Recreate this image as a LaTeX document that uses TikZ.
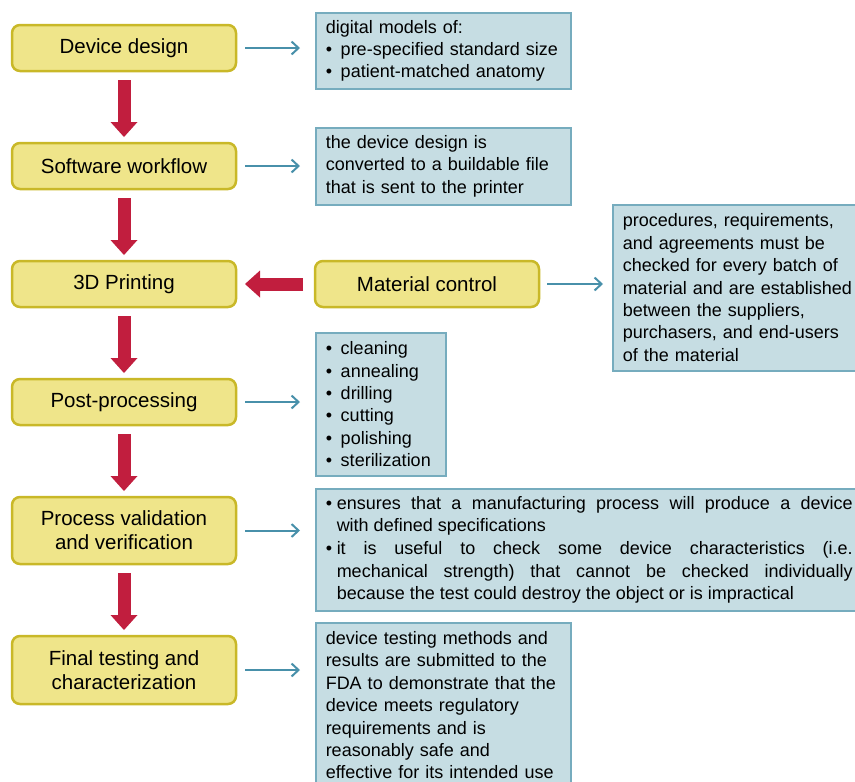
\documentclass[tikz,border=0pt]{standalone}
\usepackage{fontspec}
\setmainfont{Liberation Sans}
\usetikzlibrary{positioning,arrows.meta}
\definecolor{stagefill}{RGB}{239,229,138}
\definecolor{stageline}{RGB}{201,184,40}
\definecolor{notefill}{RGB}{198,221,227}
\definecolor{noteline}{RGB}{118,172,190}
\definecolor{flowred}{RGB}{193,30,62}
\definecolor{linkblue}{RGB}{72,144,170}
\newcommand{\bul}{\makebox[15pt][l]{\textbullet}}
\newcommand{\bulpar}[1]{\parshape 2 0pt 527pt 11pt 516pt\noindent
  \makebox[11pt][l]{\textbullet}#1\par}

\begin{document}
\begin{tikzpicture}[x=1pt,y=-1pt]
  \tikzset{stage/.style = {rectangle, rounded corners=8pt, draw=stageline, fill=stagefill,
             line width=2.5pt, outer sep=0pt, minimum width=224pt, minimum height=46pt,
             align=center, font=\fontsize{20.5}{24}\selectfont}, }
  \tikzset{note/.style = {rectangle, draw=noteline, fill=notefill, line width=1.5pt,
             anchor=north west, align=left, inner xsep=10pt, inner ysep=4pt,
             font=\fontsize{18}{22.4}\selectfont} }
  \tikzset{flow/.style = {draw=flowred, line width=13pt,
             -{Triangle[width=27pt,length=15pt,line width=0pt]},
             shorten <=9pt, shorten >=6pt} }
  \tikzset{link/.style = {draw=linkblue, line width=2pt,
             -{Straight Barb[length=7pt,width=13pt]},
             shorten <=9pt, shorten >=15pt} }
  \useasboundingbox (0,0) rectangle (855,782);

  % process chain
  \node[stage] (dd) at (124,48) {Device design};
  \node[stage, below=72pt of dd] (sw) {Software workflow};
  \node[stage, below=72pt of sw] (pr) {3D Printing};
  \node[stage, below=72pt of pr] (pp) {Post-processing};
  \node[stage, below=72pt of pp, minimum height=67pt] (pv) {Process validation\\and verification};
  \node[stage, below=72pt of pv, minimum height=68pt] (ft) {Final testing and\\characterization};
  \node[stage, right=79pt of pr] (mc) {Material control};

  % notes
  \node[note, text width=235pt, minimum height=76pt] (ndd) at (315,12)
    {digital models of:\\\bul pre-specified standard size\\\bul patient-matched anatomy};
  \node[note, text width=235pt, minimum height=77pt] (nsw) at (315,127)
    {the device design is\\converted to a buildable file\\that is sent to the printer};
  \node[note, text width=238pt, minimum height=166pt] (nmc) at (612,204)
    {procedures, requirements,\\and agreements must be\\checked for every batch of\\material and are established\\between the suppliers,\\purchasers, and end-users\\of the material};
  \node[note, text width=110pt, minimum height=143pt] (npp) at (315,332)
    {\bul cleaning\\\bul annealing\\\bul drilling\\\bul cutting\\\bul polishing\\\bul sterilization};
  \node[note, minimum height=122pt] (npv) at (315,488)
    {\parbox{527pt}{\fontsize{18}{22.7}\selectfont
     \bulpar{ensures that a manufacturing process will produce a device\linebreak with defined specifications}
     \bulpar{it is useful to check some device characteristics (i.e.\linebreak mechanical strength) that cannot be checked individually\linebreak because the test could destroy the object or is impractical}}};
  \node[note, text width=235pt, minimum height=165pt] (nft) at (315,622)
    {device testing methods and\\results are submitted to the\\FDA to demonstrate that the\\device meets regulatory\\requirements and is\\reasonably safe and\\effective for its intended use};

  \draw[flow] (dd) -- (sw);
  \draw[flow] (sw) -- (pr);
  \draw[flow] (pr) -- (pp);
  \draw[flow] (pp) -- (pv);
  \draw[flow] (pv) -- (ft);
  \draw[flow, shorten <=12pt, shorten >=9pt] (mc) -- (pr);

  \draw[link] (dd) -- (dd -| ndd.west);
  \draw[link] (sw) -- (sw -| nsw.west);
  \draw[link] (pp) -- (pp -| npp.west);
  \draw[link] (pv) -- (pv -| npv.west);
  \draw[link] (ft) -- (ft -| nft.west);
  \draw[link, shorten <=8pt, shorten >=9pt] (mc) -- (mc -| nmc.west);

\end{tikzpicture}
\end{document}
